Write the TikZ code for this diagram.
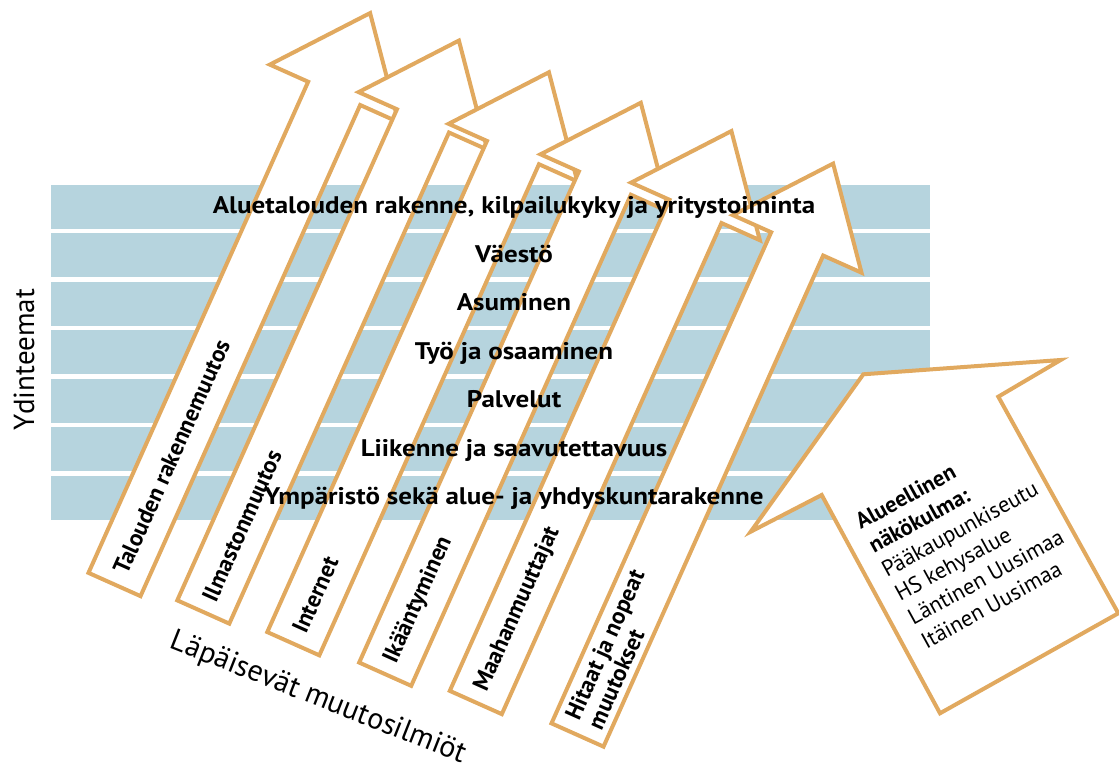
\documentclass[tikz,border=0pt]{standalone}
\usepackage{fontspec}
\setmainfont{PT Sans}
\newfontfamily\bandfont{PT Sans}[FakeStretch=1.125]
\definecolor{arrowor}{HTML}{E1A95F}
\definecolor{bandblue}{HTML}{B6D4DE}
\tikzset{
  band/.style={fill=bandblue,draw=none},
  arrowline/.style={draw=arrowor,line width=4pt,fill=white,line join=miter},
  bandtext/.style={font=\bandfont\fontsize{24}{28}\selectfont\bfseries,inner sep=0,anchor=base},
  arrowtext/.style={font=\fontsize{23.5}{24.4}\selectfont\bfseries,inner sep=0,anchor=west,rotate=65.9,align=left},
  axistext/.style={font=\fontsize{29}{32}\selectfont,inner sep=0},
  regiontext/.style={font=\fontsize{22.5}{27.3}\selectfont,inner sep=0,anchor=north west,rotate=28.8,align=left},
  changearrow/.pic={\path[arrowline] (-28.5,0) -- (28.5,0) -- (28.5,538) -- (70.5,538) -- (0,626) -- (-70.5,538) -- (-28.5,538) -- cycle;}
}
\begin{document}
\begin{tikzpicture}[x=1pt,y=1pt]
\useasboundingbox (0,0) rectangle (1119,770);
% bands
\foreach \i in {0,...,6}{
  \path[band] (51,{585-48.5*\i}) rectangle (930,{541-48.5*\i});
}
% change arrows
\pic[rotate=-24.1] at (114.5,185.5) {changearrow};
\pic[rotate=-24.1] at (203.3,158) {changearrow};
\pic[rotate=-24.1] at (293.3,126.3) {changearrow};
\pic[rotate=-24.1] at (385.2,95.8) {changearrow};
\pic[rotate=-24.1] at (475.8,67.5) {changearrow};
\pic[rotate=-24.1] at (577.5,35) {changearrow};
% regional arrow
\path[arrowline] (863.3,395.7) coordinate (rA) -- (1060.7,410) coordinate (rB) -- (998.3,373.3) coordinate (rC) -- (1118.3,156.7) coordinate (rD) -- (940,56.7) coordinate (rE) -- (821.7,275) coordinate (rF) -- (750.7,238.3) coordinate (rG) -- cycle;
% band texts
\node[bandtext] (t1) at (514,556) {Aluetalouden rakenne, kilpailukyky ja yritystoiminta};
\node[bandtext] (t2) at (514,507.5) {Väestö};
\node[bandtext] (t3) at (514,459) {Asuminen};
\node[bandtext] (t4) at (514,410.5) {Työ ja osaaminen};
\node[bandtext] (t5) at (514,362) {Palvelut};
\node[bandtext] (t6) at (514,313.5) {Liikenne ja saavutettavuus};
\node[bandtext] (t7) at (514,265) {Ympäristö sekä alue- ja yhdyskuntarakenne};
% arrow labels
\node[arrowtext] (a1) at (119.8,197.4) {Talouden rakennemuutos};
\node[arrowtext] (a2) at (208.6,169.9) {Ilmastonmuutos};
\node[arrowtext] (a3) at (298.6,138.2) {Internet};
\node[arrowtext] (a4) at (390.5,107.7) {Ikääntyminen};
\node[arrowtext] (a5) at (481.1,79.4) {Maahanmuuttajat};
\node[arrowtext] (a6) at (582.8,46.9) {Hitaat ja nopeat\\muutokset};
% axis labels
\node[axistext,rotate=90] (ydin) at (24,410) {Ydinteemat};
\node[axistext,font=\fontsize{30}{34}\selectfont,rotate=-21.5] (lapa) at (318.3,71.5) {Läpäisevät muutosilmiöt};
% regional text
\node[regiontext] (reg) at (852.9,254.2) {\textbf{Alueellinen}\\\textbf{näkökulma:}\\Pääkaupunkiseutu\\HS kehysalue\\Läntinen Uusimaa\\Itäinen Uusimaa};
\end{tikzpicture}
\end{document}
